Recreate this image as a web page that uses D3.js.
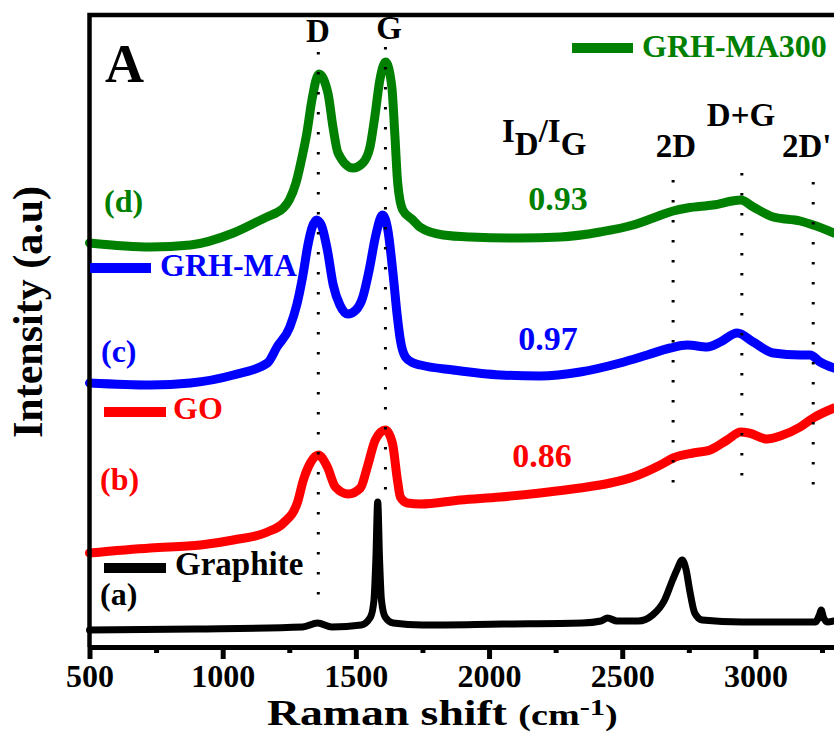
<!DOCTYPE html>
<html>
<head>
<meta charset="utf-8">
<script src="https://cdn.jsdelivr.net/npm/d3@7"></script>
<style>
    body { margin: 0; background: #fff; }
    text { font-family: 'Liberation Serif', 'Times New Roman', serif; font-weight: bold; }
</style>
</head>
<body>
<svg id="chart" width="834" height="733"></svg>
<script>
// Raman spectra, intensity in arbitrary units (curves are offset)
const graphiteShift = [500, 900, 1300, 1356, 1410, 1520, 1555, 1568, 1575, 1582, 1589, 1596, 1610, 1640, 1750, 2050, 2350, 2420, 2445, 2480, 2560, 2614, 2659, 2689, 2705, 2725, 2740, 2753, 2772, 2800, 2950, 3150, 3225, 3240, 3247, 3255, 3270, 3295]
const graphiteInt = [15, 16, 18, 22, 18, 20, 28, 45, 85, 143, 85, 45, 28, 22, 20, 21, 22, 24, 27, 24, 24, 30, 45, 65, 75, 85, 75, 55, 32, 25, 23, 23, 23, 30, 35, 28, 23, 24]

const goShift = [500, 729, 917, 1040, 1168, 1228, 1280, 1303, 1329, 1359, 1393, 1423, 1472, 1517, 1543, 1573, 1611, 1637, 1656, 1667, 1693, 1742, 1892, 2042, 2192, 2342, 2455, 2541, 2643, 2691, 2766, 2830, 2894, 2945, 2975, 3044, 3093, 3168, 3217, 3295]
const goInt = [92, 97, 100, 105, 113, 122, 142, 165, 182, 190, 178, 158, 151, 157, 178, 205, 215, 202, 165, 148, 142, 141, 145, 148, 152, 157, 162, 168, 180, 187, 192, 195, 205, 213, 212, 206, 209, 218, 227, 237]

const grhmaShift = [500, 729, 879, 1040, 1168, 1204, 1252, 1278, 1300, 1320, 1335, 1352, 1370, 1393, 1415, 1440, 1470, 1500, 1525, 1550, 1575, 1600, 1620, 1640, 1655, 1667, 1686, 1716, 1742, 1866, 2042, 2192, 2342, 2492, 2594, 2680, 2744, 2819, 2868, 2932, 2992, 3067, 3168, 3205, 3243, 3295]
const grhmaInt = [262, 260, 262, 270, 282, 298, 318, 340, 368, 400, 417, 425, 420, 395, 360, 340, 331, 335, 347, 375, 410, 430, 415, 370, 330, 305, 288, 282, 280, 275, 270, 269, 273, 282, 290, 297, 300, 298, 303, 312, 303, 292, 290, 290, 283, 277]

const grhma300Shift = [500, 729, 879, 1040, 1166, 1200, 1228, 1250, 1275, 1298, 1316, 1335, 1361, 1395, 1414, 1433, 1489, 1526, 1553, 1571, 1590, 1612, 1635, 1646, 1657, 1676, 1714, 1740, 1828, 1930, 2117, 2267, 2417, 2541, 2616, 2691, 2744, 2841, 2945, 2992, 3067, 3168, 3217, 3295]
const grhma300Int = [402, 398, 400, 412, 428, 432, 437, 445, 462, 488, 512, 545, 571, 552, 518, 492, 477, 482, 498, 528, 565, 583, 558, 512, 462, 435, 425, 418, 410, 408, 407, 408, 413, 420, 427, 434, 437, 440, 445, 438, 428, 424, 420, 412]

// peak positions marked with dotted lines
const peakNames = ['D', 'G', '2D', 'D+G', "2D'"]
const peakShifts = [1359, 1611, 2691, 2949, 3217]
const peakTop = [593, 598, 465, 472, 463]
const peakBottom = [37, 142, 147, 154, 146]

const ratioLabels = ['0.93', '0.97', '0.86']
const seriesNames = ['GRH-MA300', 'GRH-MA', 'GO', 'Graphite']
const seriesTags = ['(d)', '(c)', '(b)', '(a)']

const majorTicks = [500, 1000, 1500, 2000, 2500, 3000]
const minorTicks = [750, 1250, 1750, 2250, 2750, 3250]

const svg = d3.select('#chart')

const x = d3.scaleLinear().domain([500, 3295]).range([89.5, 834])
const y = d3.scaleLinear().domain([0, 632]).range([645, 13])

const line = d3
    .line()
    .x((d) => x(d[0]))
    .y((d) => y(d[1]))
    .curve(d3.curveMonotoneX)

const series = [
    { shift: graphiteShift, int: graphiteInt, color: '#000000', width: 7 },
    { shift: goShift, int: goInt, color: '#ff0000', width: 9 },
    { shift: grhmaShift, int: grhmaInt, color: '#0000ff', width: 9 },
    { shift: grhma300Shift, int: grhma300Int, color: '#008000', width: 9 },
]

// curves
svg.selectAll('path.curve')
    .data(series)
    .enter()
    .append('path')
    .attr('class', 'curve')
    .attr('d', (s) => line(s.shift.map((v, i) => [v, s.int[i]])))
    .attr('fill', 'none')
    .attr('stroke', (s) => s.color)
    .attr('stroke-width', (s) => s.width)
    .attr('stroke-linejoin', 'round')
    .attr('stroke-linecap', 'round')

// dotted peak guides
svg.selectAll('line.peak')
    .data(peakShifts)
    .enter()
    .append('line')
    .attr('class', 'peak')
    .attr('x1', (d) => x(d))
    .attr('x2', (d) => x(d))
    .attr('y1', (d, i) => y(peakTop[i]))
    .attr('y2', (d, i) => y(peakBottom[i]))
    .attr('stroke', '#000')
    .attr('stroke-width', 3)
    .attr('stroke-dasharray', '2.5,17.5')

// frame: top and left
svg.append('path')
    .attr('d', `M${x.range()[1]},15 H${x.range()[0]} V647`)
    .attr('fill', 'none')
    .attr('stroke', '#000')
    .attr('stroke-width', 4.5)

// x axis
const axisG = svg.append('g').attr('transform', 'translate(0,647)')
axisG
    .append('g')
    .call(d3.axisBottom(x).tickValues(minorTicks).tickFormat('').tickSize(6).tickSizeOuter(0))
    .call((g) => g.select('.domain').remove())
    .selectAll('line')
    .attr('stroke-width', 5)

const major = axisG
    .append('g')
    .call(d3.axisBottom(x).tickValues(majorTicks).tickFormat(d3.format('d')).tickSize(12).tickSizeOuter(0))
major.select('.domain').attr('stroke-width', 5)
major.selectAll('line').attr('stroke-width', 5)
major.selectAll('text')
    .attr('y', 40)
    .attr('dy', 0)
    .attr('fill', '#000')
    .style('font-size', '32px')
    .style('font-family', "'Liberation Serif', 'Times New Roman', serif")
    .style('font-weight', 'bold')

// axis titles (reference glyphs are drawn a bit wide)
const xTitle = svg.append('text').attr('transform', 'translate(267,725) scale(1.27,1)').attr('fill', '#000')
xTitle.append('tspan').style('font-size', '36px').text('Raman shift ')
xTitle.append('tspan').style('font-size', '30px').text('(cm')
xTitle.append('tspan').style('font-size', '24px').attr('dy', -10).text('-1')
xTitle.append('tspan').style('font-size', '30px').attr('dy', 10).text(')')

svg.append('text')
    .attr('transform', 'translate(42,312) rotate(-90)')
    .attr('text-anchor', 'middle')
    .style('font-size', '42px')
    .text('Intensity (a.u)')

// panel letter
svg.append('text').attr('x', 105).attr('y', 82).style('font-size', '54px').text('A')

// peak names
const peakLabelPos = [
    [318, 42, 'middle'],
    [389, 39, 'middle'],
    [676, 157, 'middle'],
    [741, 126, 'middle'],
    [782, 157, 'start'],
]
svg.selectAll('text.peakname')
    .data(peakNames)
    .enter()
    .append('text')
    .attr('class', 'peakname')
    .attr('x', (d, i) => peakLabelPos[i][0])
    .attr('y', (d, i) => peakLabelPos[i][1])
    .attr('text-anchor', (d, i) => peakLabelPos[i][2])
    .style('font-size', '33px')
    .text((d) => d)

// I_D / I_G heading
const ratioTitle = svg.append('text').attr('x', 502).attr('y', 142).style('font-size', '33px')
ratioTitle.append('tspan').text('I')
ratioTitle.append('tspan').attr('dy', 13).text('D')
ratioTitle.append('tspan').attr('dy', -13).text('/I')
ratioTitle.append('tspan').attr('dy', 13).text('G')

const colors = ['#008000', '#0000ff', '#ff0000', '#000000']

// ratio values
const ratioPos = [
    [558, 210],
    [548, 350],
    [542, 467],
]
svg.selectAll('text.ratio')
    .data(ratioLabels)
    .enter()
    .append('text')
    .attr('class', 'ratio')
    .attr('x', (d, i) => ratioPos[i][0])
    .attr('y', (d, i) => ratioPos[i][1])
    .attr('text-anchor', 'middle')
    .attr('fill', (d, i) => colors[i])
    .style('font-size', '34px')
    .text((d) => d)

// legend entries (line + name) placed next to each curve
const legendPos = [
    { x1: 572, x2: 633, y: 48, tx: 642, ty: 57 },
    { x1: 90, x2: 151, y: 268, tx: 160, ty: 276 },
    { x1: 104, x2: 166, y: 412, tx: 173, ty: 419 },
    { x1: 104, x2: 166, y: 568, tx: 175, ty: 575 },
]
const legend = svg
    .selectAll('g.legend')
    .data(seriesNames)
    .enter()
    .append('g')
    .attr('class', 'legend')
legend
    .append('line')
    .attr('x1', (d, i) => legendPos[i].x1)
    .attr('x2', (d, i) => legendPos[i].x2)
    .attr('y1', (d, i) => legendPos[i].y)
    .attr('y2', (d, i) => legendPos[i].y)
    .attr('stroke', (d, i) => colors[i])
    .attr('stroke-width', 10)
legend
    .append('text')
    .attr('x', (d, i) => legendPos[i].tx)
    .attr('y', (d, i) => legendPos[i].ty)
    .attr('fill', (d, i) => colors[i])
    .style('font-size', (d, i) => (i === 3 ? '33px' : '32px'))
    .text((d) => d)

// (a)-(d) tags
const tagPos = [
    [104, 212],
    [101, 362],
    [100, 490],
    [100, 605],
]
svg.selectAll('text.tag')
    .data(seriesTags)
    .enter()
    .append('text')
    .attr('class', 'tag')
    .attr('x', (d, i) => tagPos[i][0])
    .attr('y', (d, i) => tagPos[i][1])
    .attr('fill', (d, i) => colors[i])
    .style('font-size', '32px')
    .text((d) => d)
</script>
</body>
</html>
